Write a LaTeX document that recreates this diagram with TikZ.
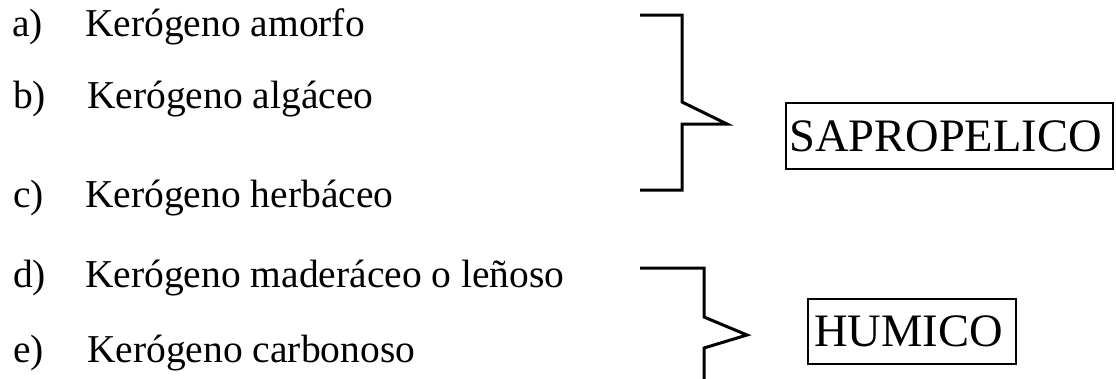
\documentclass[tikz,border=0pt]{standalone}
\usepackage{fontspec}
\setmainfont{Liberation Serif}
\begin{document}
\begin{tikzpicture}[x=1pt,y=-1pt,
  itemfont/.style={font=\fontsize{39.5}{42}\selectfont},
  tag/.style={itemfont, anchor=base west, inner sep=0pt},
  entry/.style={itemfont, anchor=base west, inner sep=0pt},
  kindbox/.style={draw, line width=2.3pt, font=\fontsize{46.5}{48}\selectfont,
    align=left, inner ysep=0pt, anchor=north west},
  bracket/.style={line width=3pt, line join=miter}]
\useasboundingbox (0,0) rectangle (1116,378);

% list of kerogen types
\node[tag] (la) at (12,36) {a)};
\node[entry] (ta) at (85,36) {Kerógeno amorfo};
\node[tag] (lb) at (13,108) {b)};
\node[entry] (tb) at (87,108) {Kerógeno algáceo};
\node[tag] (lc) at (13,207) {c)};
\node[entry] (tc) at (85,207) {Kerógeno herbáceo};
\node[tag] (ld) at (13,287) {d)};
\node[entry] (td) at (85,287) {Kerógeno maderáceo o leñoso};
\node[tag] (le) at (13,362) {e)};
\node[entry] (te) at (87,362) {Kerógeno carbonoso};

% group labels
\node[kindbox, inner xsep=3pt, text width=321pt, minimum height=66pt] (sap) at (785,102) {SAPROPELICO};
\node[kindbox, inner xsep=6pt, text width=196pt, minimum height=65pt] (hum) at (807,298) {HUMICO};

% bracket for a)--c)
\coordinate (s1) at (640,15);
\coordinate (s2) at (640,190);
\draw[bracket] (s1) -- (682,15) -- (682,102) -- (727,124) -- (682,124) -- (682,190) -- (s2);

% bracket for d)--e)
\coordinate (h1) at (640,268);
\coordinate (h2) at (704,380);
\draw[bracket] (h1) -- (704,268) -- (704,317) -- (747,335) -- (704,348) -- (h2);
\end{tikzpicture}
\end{document}
